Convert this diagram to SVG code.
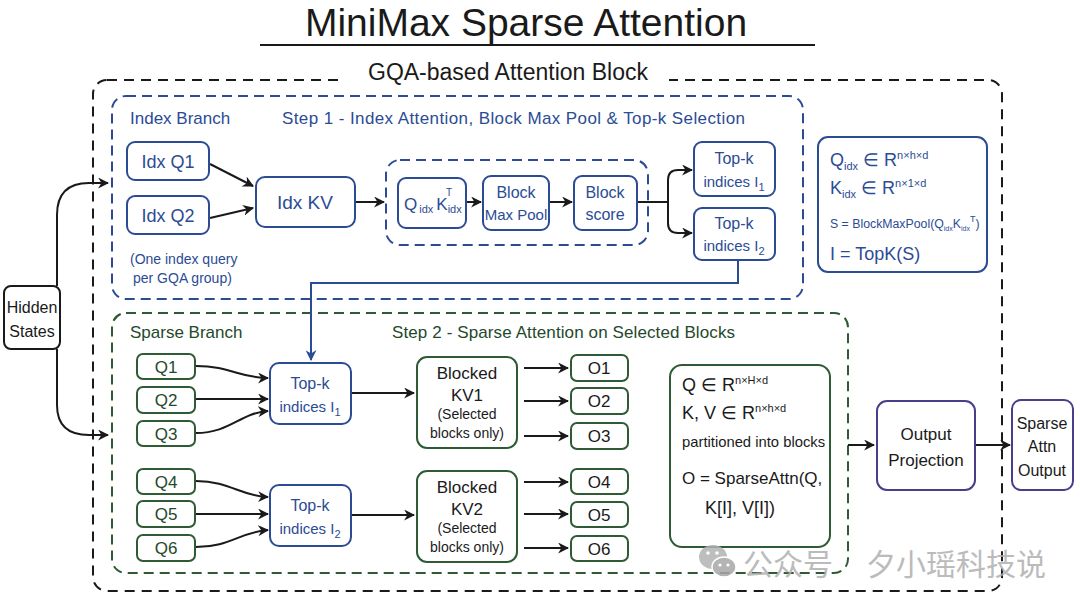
<svg xmlns="http://www.w3.org/2000/svg" width="1080" height="606" viewBox="0 0 1080 606">
<defs>
<style>
text{font-family:"Liberation Sans","Noto Sans",sans-serif;}
.t{font-size:17px;text-anchor:middle;}
.blue{fill:#2b4c95;}
.green{fill:#24492b;}
.black{fill:#1a1a1a;}
.bbox{fill:#fff;stroke:#2b4c95;stroke-width:2;}
.gbox{fill:#fff;stroke:#2e5b34;stroke-width:2;}
.kbox{fill:#fff;stroke:#1a1a1a;stroke-width:2;}
.pbox{fill:#fff;stroke:#4b3d8a;stroke-width:2;}
.ln{fill:none;stroke:#1a1a1a;stroke-width:2;}
.bln{fill:none;stroke:#2b4c95;stroke-width:2;}
.sub{font-size:11px;}
.sup{font-size:11px;}
</style>
<marker id="ah" viewBox="0 0 10 10" refX="9" refY="5" markerWidth="11" markerHeight="11" markerUnits="userSpaceOnUse" orient="auto">
<path d="M0,0 L10,5 L0,10 L3,5 Z" fill="#1a1a1a"/>
</marker>
<marker id="bh" viewBox="0 0 10 10" refX="9" refY="5" markerWidth="11" markerHeight="11" markerUnits="userSpaceOnUse" orient="auto">
<path d="M0,0 L10,5 L0,10 L3,5 Z" fill="#2b4c95"/>
</marker>
</defs>
<rect width="1080" height="606" fill="#ffffff"/>

<!-- Title -->
<g id="title">
<text x="526" y="36" style="font-size:39px;text-anchor:middle" class="black">MiniMax Sparse Attention</text>
<line x1="260" y1="45" x2="815" y2="45" stroke="#1a1a1a" stroke-width="2"/>
</g>

<!-- Containers -->
<g id="gqa-block">
<rect x="93" y="80" width="909" height="511" rx="14" fill="none" stroke="#1a1a1a" stroke-width="2" stroke-dasharray="10 7"/>
<rect x="345" y="62" width="324" height="30" fill="#fff"/>
<text x="508" y="80" style="font-size:23px;text-anchor:middle" class="black">GQA-based Attention Block</text>
</g>
<g id="index-branch">
<rect x="112" y="96" width="691" height="203" rx="14" fill="none" stroke="#2b4c95" stroke-width="2" stroke-dasharray="10 6"/>
<text x="130" y="124" style="font-size:17px" class="blue">Index Branch</text>
<text x="282" y="124" style="font-size:17px" class="blue" textLength="463">Step 1 - Index Attention, Block Max Pool &amp; Top-k Selection</text>
<text x="130" y="264" style="font-size:14px" class="blue">(One index query</text>
<text x="133" y="283" style="font-size:14px" class="blue">per GQA group)</text>
</g>
<g id="sparse-branch">
<rect x="112" y="313" width="736" height="260" rx="14" fill="none" stroke="#2e5b34" stroke-width="2" stroke-dasharray="10 6"/>
<text x="130" y="338" style="font-size:17px" class="green">Sparse Branch</text>
<text x="392" y="338" style="font-size:17px" class="green" textLength="343">Step 2 - Sparse Attention on Selected Blocks</text>
</g>
<g id="score-group">
<rect x="386" y="160" width="262" height="85" rx="14" fill="none" stroke="#2b4c95" stroke-width="2" stroke-dasharray="10 6"/>
</g>

<!-- Connectors -->
<g id="connectors">
<path class="ln" d="M57,286 V215 Q57,183 89,183 H108" marker-end="url(#ah)"/>
<path class="ln" d="M57,349 V405 Q57,435 89,435 H108" marker-end="url(#ah)"/>
<path class="ln" d="M210,164 L253,186" marker-end="url(#ah)"/>
<path class="ln" d="M210,218 L253,208" marker-end="url(#ah)"/>
<path class="ln" d="M355,202 H384" marker-end="url(#ah)"/>
<path class="ln" d="M466,202 H481" marker-end="url(#ah)"/>
<path class="ln" d="M549,202 H572" marker-end="url(#ah)"/>
<path class="ln" d="M637,202 H668"/>
<path class="ln" d="M668,202 V180 Q668,170 678,170 H692" marker-end="url(#ah)"/>
<path class="ln" d="M668,202 V223 Q668,233 678,233 H692" marker-end="url(#ah)"/>
<path class="bln" d="M738,260 V283 H311 V360" marker-end="url(#bh)"/>
<path class="ln" d="M196,366 C230,366 240,378 268,378" marker-end="url(#ah)"/>
<path class="ln" d="M196,399 H268" marker-end="url(#ah)"/>
<path class="ln" d="M196,433 C230,433 240,413 268,411" marker-end="url(#ah)"/>
<path class="ln" d="M196,481 C230,481 240,496 268,497" marker-end="url(#ah)"/>
<path class="ln" d="M196,514 H268" marker-end="url(#ah)"/>
<path class="ln" d="M196,547 C230,547 240,532 268,530" marker-end="url(#ah)"/>
<path class="ln" d="M351,393 H414" marker-end="url(#ah)"/>
<path class="ln" d="M351,515 H414" marker-end="url(#ah)"/>
<path class="ln" d="M524,368 H568" marker-end="url(#ah)"/>
<path class="ln" d="M524,401 H568" marker-end="url(#ah)"/>
<path class="ln" d="M524,436 H568" marker-end="url(#ah)"/>
<path class="ln" d="M524,482 H568" marker-end="url(#ah)"/>
<path class="ln" d="M524,514 H568" marker-end="url(#ah)"/>
<path class="ln" d="M524,548 H568" marker-end="url(#ah)"/>
<path class="ln" d="M848,445 H874" marker-end="url(#ah)"/>
<path class="ln" d="M975,445 H1010" marker-end="url(#ah)"/>
</g>

<!-- Nodes -->
<g id="hidden-states">
<rect class="kbox" x="4" y="286" width="56" height="63" rx="7"/>
<text class="t black" x="32" y="313" style="font-size:16px">Hidden</text>
<text class="t black" x="32" y="337" style="font-size:16px">States</text>
</g>
<g id="idx-q1">
<rect class="bbox" x="127" y="142" width="82" height="38" rx="8"/>
<text class="t blue" x="168" y="168" style="font-size:18px">Idx Q1</text>
</g>
<g id="idx-q2">
<rect class="bbox" x="127" y="196" width="82" height="38" rx="8"/>
<text class="t blue" x="168" y="222" style="font-size:18px">Idx Q2</text>
</g>
<g id="idx-kv">
<rect class="bbox" x="256" y="177" width="99" height="50" rx="9"/>
<text class="t blue" x="305" y="209" style="font-size:19px">Idx KV</text>
</g>
<g id="qk">
<rect class="bbox" x="398" y="178" width="68" height="50" rx="8"/>
<text class="blue" x="404" y="210" style="font-size:17px">Q<tspan class="sub" dx="2" dy="3">idx</tspan><tspan dx="3" dy="-3">K</tspan><tspan class="sub" dy="3">idx</tspan></text>
<text class="blue" x="446" y="196" style="font-size:10px">T</text>
</g>
<g id="block-max-pool">
<rect class="bbox" x="483" y="176" width="66" height="54" rx="8"/>
<text class="t blue" x="516" y="198" style="font-size:16px">Block</text>
<text class="t blue" x="516" y="220" style="font-size:15px">Max Pool</text>
</g>
<g id="block-score">
<rect class="bbox" x="574" y="176" width="63" height="54" rx="8"/>
<text class="t blue" x="605" y="198" style="font-size:16px">Block</text>
<text class="t blue" x="605" y="220" style="font-size:16px">score</text>
</g>
<g id="topk-i1-idx">
<rect class="bbox" x="694" y="142" width="81" height="54" rx="8"/>
<text class="t blue" x="734" y="164" style="font-size:16px">Top-k</text>
<text class="t blue" x="734" y="187" style="font-size:15px">indices I<tspan class="sub" dy="4">1</tspan></text>
</g>
<g id="topk-i2-idx">
<rect class="bbox" x="694" y="208" width="81" height="52" rx="8"/>
<text class="t blue" x="734" y="229" style="font-size:16px">Top-k</text>
<text class="t blue" x="734" y="251" style="font-size:15px">indices I<tspan class="sub" dy="4">2</tspan></text>
</g>
<g id="index-formulas">
<rect class="bbox" x="818" y="137" width="169" height="135" rx="10"/>
<text class="blue" x="830" y="166" style="font-size:18px">Q<tspan class="sub" dy="4">idx</tspan><tspan dy="-4"> ∈ R</tspan><tspan class="sup" dy="-7">n×h×d</tspan></text>
<text class="blue" x="830" y="194" style="font-size:18px">K<tspan class="sub" dy="4">idx</tspan><tspan dy="-4"> ∈ R</tspan><tspan class="sup" dy="-7">n×1×d</tspan></text>
<text class="blue" x="830" y="228" style="font-size:12.3px">S = BlockMaxPool(Q<tspan style="font-size:7px" dy="3">idx</tspan><tspan dy="-3">K</tspan><tspan style="font-size:7px" dy="3">idx</tspan><tspan style="font-size:9px" dy="-9">T</tspan><tspan dy="6">)</tspan></text>
<text class="blue" x="830" y="260" style="font-size:18px">I = TopK(S)</text>
</g>

<g id="q1"><rect class="gbox" x="137" y="354" width="58" height="25" rx="6"/><text class="t green" x="166" y="373" style="font-size:17px">Q1</text></g>
<g id="q2"><rect class="gbox" x="137" y="387" width="58" height="26" rx="6"/><text class="t green" x="166" y="406" style="font-size:17px">Q2</text></g>
<g id="q3"><rect class="gbox" x="137" y="421" width="58" height="25" rx="6"/><text class="t green" x="166" y="440" style="font-size:17px">Q3</text></g>
<g id="q4"><rect class="gbox" x="137" y="469" width="58" height="25" rx="6"/><text class="t green" x="166" y="488" style="font-size:17px">Q4</text></g>
<g id="q5"><rect class="gbox" x="137" y="501" width="58" height="26" rx="6"/><text class="t green" x="166" y="520" style="font-size:17px">Q5</text></g>
<g id="q6"><rect class="gbox" x="137" y="535" width="58" height="26" rx="6"/><text class="t green" x="166" y="554" style="font-size:17px">Q6</text></g>

<g id="topk-i1">
<rect class="bbox" x="270" y="363" width="81" height="61" rx="9"/>
<text class="t blue" x="310" y="389" style="font-size:16px">Top-k</text>
<text class="t blue" x="310" y="412" style="font-size:15px">indices I<tspan class="sub" dy="4">1</tspan></text>
</g>
<g id="topk-i2">
<rect class="bbox" x="270" y="485" width="81" height="61" rx="9"/>
<text class="t blue" x="310" y="511" style="font-size:16px">Top-k</text>
<text class="t blue" x="310" y="534" style="font-size:15px">indices I<tspan class="sub" dy="4">2</tspan></text>
</g>
<g id="blocked-kv1">
<rect class="gbox" x="417" y="357" width="100" height="91" rx="10"/>
<text class="t black" x="467" y="379" style="font-size:17px">Blocked</text>
<text class="t black" x="467" y="401" style="font-size:17px">KV1</text>
<text class="t black" x="467" y="419" style="font-size:14px">(Selected</text>
<text class="t black" x="467" y="438" style="font-size:14px">blocks only)</text>
</g>
<g id="blocked-kv2">
<rect class="gbox" x="417" y="471" width="100" height="91" rx="10"/>
<text class="t black" x="467" y="493" style="font-size:17px">Blocked</text>
<text class="t black" x="467" y="515" style="font-size:17px">KV2</text>
<text class="t black" x="467" y="533" style="font-size:14px">(Selected</text>
<text class="t black" x="467" y="552" style="font-size:14px">blocks only)</text>
</g>
<g id="o1"><rect class="gbox" x="571" y="355" width="57" height="26" rx="6"/><text class="t black" x="599" y="374" style="font-size:17px">O1</text></g>
<g id="o2"><rect class="gbox" x="571" y="388" width="57" height="26" rx="6"/><text class="t black" x="599" y="407" style="font-size:17px">O2</text></g>
<g id="o3"><rect class="gbox" x="571" y="423" width="57" height="26" rx="6"/><text class="t black" x="599" y="442" style="font-size:17px">O3</text></g>
<g id="o4"><rect class="gbox" x="571" y="469" width="57" height="25" rx="6"/><text class="t black" x="599" y="488" style="font-size:17px">O4</text></g>
<g id="o5"><rect class="gbox" x="571" y="502" width="57" height="25" rx="6"/><text class="t black" x="599" y="521" style="font-size:17px">O5</text></g>
<g id="o6"><rect class="gbox" x="571" y="536" width="57" height="25" rx="6"/><text class="t black" x="599" y="555" style="font-size:17px">O6</text></g>

<g id="sparse-formulas">
<rect class="gbox" x="670" y="365" width="160" height="182" rx="12"/>
<text class="black" x="682" y="391" style="font-size:18px">Q  ∈ R<tspan class="sup" dy="-7">n×H×d</tspan></text>
<text class="black" x="682" y="419" style="font-size:18px">K, V ∈ R<tspan class="sup" dy="-7">n×h×d</tspan></text>
<text class="black" x="682" y="447" style="font-size:14.8px">partitioned into blocks</text>
<text class="black" x="682" y="484" style="font-size:17px">O = SparseAttn(Q,</text>
<text class="black" x="705" y="514" style="font-size:18px">K[I], V[I])</text>
</g>
<g id="output-projection">
<rect class="pbox" x="877" y="401" width="98" height="89" rx="10"/>
<text class="t black" x="926" y="440" style="font-size:17px">Output</text>
<text class="t black" x="926" y="466" style="font-size:17px">Projection</text>
</g>
<g id="sparse-attn-output">
<rect class="pbox" x="1012" y="400" width="61" height="90" rx="9"/>
<text class="t black" x="1042" y="429" style="font-size:16px">Sparse</text>
<text class="t black" x="1042" y="452" style="font-size:16px">Attn</text>
<text class="t black" x="1042" y="476" style="font-size:16px">Output</text>
</g>

<g id="watermark" opacity="0.85">
<ellipse cx="713" cy="557" rx="14" ry="12" fill="#b3b3b3"/>
<ellipse cx="724" cy="567" rx="12" ry="10" fill="#a8a8a8" stroke="#fff" stroke-width="1.5"/>
<circle cx="708" cy="553" r="1.8" fill="#fff"/>
<circle cx="717" cy="553" r="1.8" fill="#fff"/>
<circle cx="720" cy="565" r="1.6" fill="#fff"/>
<circle cx="728" cy="565" r="1.6" fill="#fff"/>
<text x="743" y="575" style="font-family:'Noto Sans CJK SC',sans-serif;font-size:30px" fill="#b0b0b0">公众号</text>
<text x="866" y="575" style="font-family:'Noto Sans CJK SC',sans-serif;font-size:30px" fill="#b0b0b0">夕小瑶科技说</text>
</g>
</svg>
